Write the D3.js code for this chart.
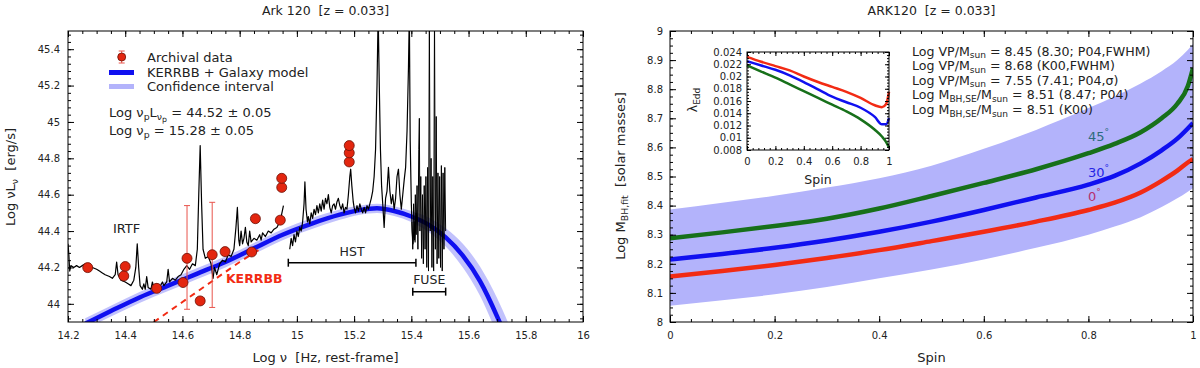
<!DOCTYPE html>
<html>
<head>
<meta charset="utf-8">
<script src="https://cdn.jsdelivr.net/npm/d3@7"></script>
<style>
body { margin: 0; background: #fff; }
svg text { font-family: "DejaVu Sans", sans-serif; fill: #222; }
</style>
</head>
<body>
<div id="chart"></div>
<script>
// ---------- left panel: Ark 120 SED ----------
const sedXTicks = [14.2, 14.4, 14.6, 14.8, 15, 15.2, 15.4, 15.6, 15.8, 16];
const sedYTicks = [44, 44.2, 44.4, 44.6, 44.8, 45, 45.2, 45.4];

// archival photometry (log nu, log nuLnu)
const archX = [14.269, 14.400, 14.395, 14.510, 14.602, 14.616, 14.662, 14.704, 14.749, 14.842, 14.855, 14.942, 14.947, 14.947, 15.183, 15.183, 15.183];
const archY = [44.199, 44.205, 44.153, 44.085, 44.117, 44.250, 44.016, 44.270, 44.287, 44.285, 44.468, 44.460, 44.640, 44.690, 44.780, 44.830, 44.870];
// the three points with error bars
const errX  = [14.269, 14.616, 14.704];
const errLo = [44.180, 43.970, 43.980];
const errHi = [44.220, 44.540, 44.558];

// KERRBB + galaxy model and its confidence interval
const modelX  = [14.26, 14.35, 14.45, 14.55, 14.65, 14.75, 14.85, 14.95, 15.05, 15.15, 15.22, 15.28, 15.34, 15.40, 15.46, 15.52, 15.58, 15.64, 15.70, 15.74];
const modelY  = [43.89, 43.96, 44.035, 44.10, 44.165, 44.23, 44.305, 44.38, 44.44, 44.49, 44.515, 44.525, 44.51, 44.48, 44.435, 44.365, 44.265, 44.125, 43.93, 43.78];
const modelLo = [43.86, 43.93, 44.005, 44.07, 44.135, 44.20, 44.275, 44.35, 44.41, 44.462, 44.49, 44.50, 44.483, 44.45, 44.395, 44.315, 44.20, 44.045, 43.83, 43.67];
const modelHi = [43.92, 43.99, 44.065, 44.13, 44.195, 44.26, 44.335, 44.41, 44.47, 44.518, 44.54, 44.55, 44.537, 44.51, 44.475, 44.415, 44.33, 44.205, 44.03, 43.89];

// KERRBB disk component alone (dashed)
const kerrbbX = [14.50, 14.60, 14.70, 14.80, 14.87];
const kerrbbY = [43.90, 44.01, 44.12, 44.23, 44.30];

// spectra [log nu, log nuLnu]
const irtfSpec = [
  [14.200,44.33],[14.203,44.27],[14.206,44.18],[14.210,44.21],[14.22,44.20],[14.23,44.21],[14.24,44.20],[14.25,44.21],[14.26,44.22],
  [14.27,44.20],[14.285,44.20],[14.30,44.19],[14.31,44.18],[14.32,44.17],[14.33,44.16],[14.345,44.15],[14.355,44.14],[14.365,44.16],
  [14.370,44.23],[14.375,44.16],[14.385,44.13],[14.40,44.12],[14.41,44.11],[14.42,44.10],[14.43,44.13],[14.437,44.20],[14.442,44.33],
  [14.447,44.20],[14.452,44.10],[14.46,44.08],[14.465,44.11],[14.47,44.08],[14.475,44.15],[14.48,44.09],[14.49,44.08],[14.495,44.12],
  [14.50,44.09],[14.51,44.11],[14.52,44.09],[14.53,44.12],[14.535,44.10],[14.545,44.12],[14.55,44.19],[14.555,44.12],[14.565,44.14],
  [14.575,44.13],[14.585,44.15],[14.595,44.16],[14.605,44.19],[14.615,44.21],[14.625,44.19],[14.635,44.22],[14.645,44.21],[14.652,44.30],
  [14.657,44.60],[14.662,44.87],[14.667,44.55],[14.672,44.30],[14.68,44.25],[14.69,44.26],[14.70,44.22],[14.707,44.14],[14.712,44.20],
  [14.72,44.16],[14.73,44.22],[14.74,44.24],[14.75,44.23],[14.76,44.27],[14.77,44.26],[14.78,44.30],[14.787,44.42],[14.792,44.53],
  [14.797,44.35],[14.80,44.32],[14.805,44.40],[14.81,44.33],[14.815,44.36],[14.82,44.42],[14.825,44.34],[14.83,44.32],[14.835,44.40],
  [14.84,44.34],[14.85,44.36],[14.86,44.35],[14.87,44.38],[14.875,44.35],[14.88,44.39],[14.89,44.37],[14.90,44.40],[14.91,44.39],
  [14.92,44.41],[14.93,44.42],[14.94,44.45],[14.945,44.48],[14.953,44.54]
];
const hstSpec = [
  [14.975,44.30],[14.98,44.36],[14.985,44.32],[14.99,44.38],[14.995,44.34],[15.00,44.40],[15.005,44.37],[15.01,44.42],[15.015,44.40],
  [15.02,44.45],[15.025,44.55],[15.028,44.67],[15.032,44.52],[15.037,44.45],[15.04,44.48],[15.045,44.44],[15.05,44.50],[15.055,44.47],
  [15.06,44.52],[15.065,44.49],[15.07,44.54],[15.075,44.50],[15.08,44.55],[15.085,44.51],[15.09,44.57],[15.095,44.52],[15.10,44.58],
  [15.105,44.55],[15.11,44.60],[15.115,44.53],[15.12,44.50],[15.125,44.54],[15.13,44.55],[15.135,44.52],[15.14,44.56],[15.145,44.58],
  [15.15,44.54],[15.155,44.52],[15.16,44.55],[15.165,44.50],[15.17,44.53],[15.175,44.52],[15.18,44.60],[15.185,44.70],[15.188,44.74],
  [15.192,44.65],[15.197,44.56],[15.20,44.53],[15.205,44.50],[15.21,44.54],[15.215,44.51],[15.22,44.55],[15.225,44.52],[15.23,44.50],
  [15.235,44.53],[15.24,44.50],[15.245,44.54],[15.25,44.52],[15.255,44.55],[15.26,44.58],[15.265,44.62],[15.27,44.70],[15.275,44.85],
  [15.28,45.20],[15.284,45.60],[15.288,45.20],[15.292,44.85],[15.296,44.65],[15.30,44.55],[15.305,44.42],[15.31,44.58],[15.315,44.62],
  [15.32,44.75],[15.325,44.62],[15.33,44.55],[15.335,44.60],[15.34,44.52],[15.345,44.58],[15.35,44.70],[15.355,44.74],[15.36,44.60],
  [15.365,44.52],[15.37,44.60],[15.375,44.68],[15.38,44.75],[15.385,44.95],[15.39,45.30],[15.393,45.60],[15.396,44.90],[15.40,44.55],
  [15.403,44.40],[15.406,44.33],[15.41,44.45],[15.413,44.34],[15.416,44.50]
];
const fuseSpec = [
  [15.402,44.45],[15.405,44.30],[15.408,44.55],[15.411,44.35],[15.414,44.60],[15.417,44.38],[15.42,44.65],[15.423,44.30],[15.426,44.85],
  [15.428,45.02],[15.430,44.40],[15.433,44.70],[15.436,44.25],[15.439,44.60],[15.442,44.22],[15.445,44.65],[15.448,44.30],[15.451,44.70],
  [15.454,44.20],[15.457,44.75],[15.460,44.18],[15.463,45.60],[15.466,44.40],[15.469,44.80],[15.472,44.20],[15.475,44.70],[15.478,44.18],
  [15.481,45.60],[15.484,44.30],[15.487,45.03],[15.490,44.22],[15.493,44.72],[15.496,44.25],[15.499,44.70],[15.502,44.20],[15.505,44.76],
  [15.508,44.18],[15.511,44.72],[15.514,44.30],[15.517,44.75],[15.52,44.40]
];
const hstRange = [14.97, 15.416];
const fuseRange = [15.405, 15.52];

// ---------- right panel: BH mass vs spin ----------
const spinTicks = [0, 0.2, 0.4, 0.6, 0.8, 1];
const massTicks = [8, 8.1, 8.2, 8.3, 8.4, 8.5, 8.6, 8.7, 8.8, 8.9, 9];
const spin = [0, 0.1, 0.2, 0.3, 0.4, 0.5, 0.6, 0.7, 0.8, 0.85, 0.9, 0.94, 0.97, 0.99, 1.0];
const mass0  = [8.156, 8.175, 8.196, 8.220, 8.247, 8.278, 8.310, 8.345, 8.385, 8.410, 8.445, 8.485, 8.520, 8.548, 8.560];
const mass30 = [8.215, 8.234, 8.255, 8.280, 8.310, 8.345, 8.385, 8.428, 8.472, 8.502, 8.545, 8.590, 8.630, 8.665, 8.684];
const mass45 = [8.288, 8.308, 8.330, 8.355, 8.390, 8.433, 8.478, 8.525, 8.580, 8.612, 8.652, 8.700, 8.750, 8.810, 8.873];
const massLo = [8.056, 8.075, 8.095, 8.120, 8.150, 8.180, 8.215, 8.255, 8.300, 8.328, 8.360, 8.395, 8.425, 8.448, 8.460];
const massHi = [8.387, 8.410, 8.434, 8.462, 8.494, 8.537, 8.595, 8.660, 8.735, 8.775, 8.820, 8.862, 8.900, 8.935, 8.955];

// inset: Eddington ratio vs spin
const eddTicks = [0.008, 0.01, 0.012, 0.014, 0.016, 0.018, 0.02, 0.022, 0.024];
const spinIn = [0, 0.1, 0.2, 0.3, 0.4, 0.5, 0.6, 0.7, 0.8, 0.9, 0.95, 0.98, 1.0];
const edd0  = [0.0232, 0.0224, 0.0217, 0.0210, 0.0200, 0.0191, 0.0183, 0.0175, 0.0165, 0.0153, 0.0150, 0.0155, 0.0175];
const edd30 = [0.0225, 0.0218, 0.0211, 0.0202, 0.0191, 0.0179, 0.0167, 0.0158, 0.0149, 0.0134, 0.0122, 0.0122, 0.0132];
const edd45 = [0.0218, 0.0208, 0.0198, 0.0187, 0.0176, 0.0165, 0.0154, 0.0143, 0.0130, 0.0113, 0.0102, 0.0093, 0.0084];

const C_RED = "#f22b14", C_BLUE = "#1010f0", C_GREEN = "#17701a", C_BAND = "#b3b3fb";

const svg = d3.select("#chart").append("svg").attr("width", 1200).attr("height", 368);
const fmt = d => String(+d.toFixed(3));

// text with subscripts: parts = [[string, level]], level 0 normal, 1 sub, 2 sub-sub
function rich(parent, x, y, parts, fs, anchor, transform) {
  const t = parent.append("text").attr("x", x).attr("y", y).attr("font-size", fs)
    .attr("text-anchor", anchor || "start").style("white-space", "pre");
  if (transform) t.attr("transform", transform);
  const off = [0, 0.22 * fs, 0.38 * fs], size = [fs, 0.72 * fs, 0.6 * fs];
  let cur = 0;
  parts.forEach(([s, lv]) => {
    t.append("tspan").attr("dy", off[lv] - cur).attr("font-size", size[lv]).text(s);
    cur = off[lv];
  });
  return t;
}

function drawAxes(g, x, y, o) {
  const [X0, X1] = x.range(), [Y0, Y1] = y.range();
  const add = (axis, tx, ty) => g.append("g").attr("transform", `translate(${tx},${ty})`)
    .attr("font-size", o.fs).call(axis).call(a => a.select(".domain").remove());
  add(d3.axisBottom(x).tickValues(o.xMajor).tickSize(-o.maj).tickPadding(o.padX).tickFormat(fmt), 0, Y0);
  add(d3.axisBottom(x).tickValues(o.xMinor).tickSize(-o.min).tickFormat(""), 0, Y0);
  add(d3.axisTop(x).tickValues(o.xMajor).tickSize(-o.maj).tickFormat(""), 0, Y1);
  add(d3.axisTop(x).tickValues(o.xMinor).tickSize(-o.min).tickFormat(""), 0, Y1);
  add(d3.axisLeft(y).tickValues(o.yMajor).tickSize(-o.maj).tickPadding(o.padY).tickFormat(fmt), X0, 0);
  add(d3.axisLeft(y).tickValues(o.yMinor).tickSize(-o.min).tickFormat(""), X0, 0);
  add(d3.axisRight(y).tickValues(o.yMajor).tickSize(-o.maj).tickFormat(""), X1, 0);
  add(d3.axisRight(y).tickValues(o.yMinor).tickSize(-o.min).tickFormat(""), X1, 0);
  g.append("rect").attr("x", X0).attr("y", Y1).attr("width", X1 - X0).attr("height", Y0 - Y1)
    .attr("fill", "none").attr("stroke", "#000").attr("stroke-width", 1);
}

// ================= LEFT PANEL =================
const xL = d3.scaleLinear().domain([14.2, 16]).range([68, 583]);
const yL = d3.scaleLinear().domain([43.9, 45.5]).range([322, 31]);
const gL = svg.append("g");
svg.append("defs").append("clipPath").attr("id", "clipL").append("rect")
  .attr("x", 68).attr("y", 31).attr("width", 515).attr("height", 291);
const plotL = gL.append("g").attr("clip-path", "url(#clipL)");

const modelRows = modelX.map((x, i) => ({ x, y: modelY[i], lo: modelLo[i], hi: modelHi[i] }));
plotL.append("path").datum(modelRows).attr("fill", C_BAND).attr("opacity", 0.8)
  .attr("d", d3.area().x(d => xL(d.x)).y0(d => yL(d.lo)).y1(d => yL(d.hi)).curve(d3.curveMonotoneX));
plotL.append("path").datum(modelRows).attr("fill", "none").attr("stroke", C_BLUE).attr("stroke-width", 4.5)
  .attr("d", d3.line().x(d => xL(d.x)).y(d => yL(d.y)).curve(d3.curveMonotoneX));
plotL.append("path").datum(kerrbbX.map((x, i) => [x, kerrbbY[i]])).attr("fill", "none")
  .attr("stroke", C_RED).attr("stroke-width", 2).attr("stroke-dasharray", "6,5")
  .attr("d", d3.line().x(d => xL(d[0])).y(d => yL(d[1])));

const specLine = d3.line().x(d => xL(d[0])).y(d => yL(d[1]));
[[irtfSpec, 1.2], [hstSpec, 1.2], [fuseSpec, 1]].forEach(([s, w]) => {
  plotL.append("path").datum(s).attr("fill", "none").attr("stroke", "#000")
    .attr("stroke-width", w).attr("stroke-linejoin", "round").attr("d", specLine);
});

// error bars
errX.forEach((x, i) => {
  const eg = plotL.append("g").attr("stroke", "#e8544c").attr("stroke-width", 1);
  eg.append("line").attr("x1", xL(x)).attr("x2", xL(x)).attr("y1", yL(errLo[i])).attr("y2", yL(errHi[i]));
  [errLo[i], errHi[i]].forEach(v => eg.append("line").attr("x1", xL(x) - 3).attr("x2", xL(x) + 3)
    .attr("y1", yL(v)).attr("y2", yL(v)));
});
plotL.selectAll("circle.arch").data(archX.map((x, i) => [x, archY[i]])).join("circle")
  .attr("class", "arch").attr("cx", d => xL(d[0])).attr("cy", d => yL(d[1])).attr("r", 5)
  .attr("fill", "#e3260f").attr("stroke", "#6b1208").attr("stroke-width", 0.8);

// instrument ranges
function rangeBar(r, yv, label, ly) {
  const g = gL.append("g").attr("stroke", "#000").attr("stroke-width", 1.5);
  g.append("line").attr("x1", xL(r[0])).attr("x2", xL(r[1])).attr("y1", yL(yv)).attr("y2", yL(yv));
  r.forEach(v => g.append("line").attr("x1", xL(v)).attr("x2", xL(v)).attr("y1", yL(yv) - 4).attr("y2", yL(yv) + 4));
  gL.append("text").attr("x", xL((r[0] + r[1]) / 2)).attr("y", yL(ly)).attr("text-anchor", "middle")
    .attr("font-size", 12.5).text(label);
}
rangeBar(hstRange, 44.226, "HST", 44.265);
rangeBar(fuseRange, 44.067, "FUSE", 44.108);

gL.append("text").attr("x", xL(14.357)).attr("y", yL(44.391)).attr("font-size", 13).text("IRTF");
gL.append("text").attr("x", xL(14.752)).attr("y", yL(44.115)).attr("font-size", 12.5)
  .attr("font-weight", "bold").style("fill", C_RED).text("KERRBB");

drawAxes(gL, xL, yL, {
  xMajor: sedXTicks, xMinor: d3.range(14.2, 16.001, 0.05),
  yMajor: sedYTicks, yMinor: d3.range(43.92, 45.5, 0.04),
  maj: 6, min: 3, padX: 10, padY: 8, fs: 13
});

// legend
const lg = gL.append("g");
lg.append("line").attr("x1", 121.7).attr("x2", 121.7).attr("y1", 51).attr("y2", 63).attr("stroke", "#e8544c");
[51, 63].forEach(v => lg.append("line").attr("x1", 118.7).attr("x2", 124.7).attr("y1", v).attr("y2", v).attr("stroke", "#e8544c"));
lg.append("circle").attr("cx", 121.7).attr("cy", 57).attr("r", 4).attr("fill", "#e3260f").attr("stroke", "#6b1208").attr("stroke-width", 0.8);
lg.append("line").attr("x1", 109).attr("x2", 134).attr("y1", 72.5).attr("y2", 72.5).attr("stroke", C_BLUE).attr("stroke-width", 5);
lg.append("line").attr("x1", 109).attr("x2", 134).attr("y1", 86.5).attr("y2", 86.5).attr("stroke", C_BAND).attr("stroke-width", 5);
[["Archival data", 61.5], ["KERRBB + Galaxy model", 76.5], ["Confidence interval", 91]].forEach(([s, y]) =>
  lg.append("text").attr("x", 147).attr("y", y).attr("font-size", 13).text(s));
rich(gL, 109, 117, [["Log ν", 0], ["p", 1], ["L", 0], ["ν", 1], ["p", 2], [" = 44.52 ± 0.05", 0]], 13);
rich(gL, 109, 135, [["Log ν", 0], ["p", 1], [" = 15.28 ± 0.05", 0]], 13);

gL.append("text").attr("x", 325.5).attr("y", 15).attr("text-anchor", "middle").attr("font-size", 12.5)
  .style("white-space", "pre").text("Ark 120  [z = 0.033]");
gL.append("text").attr("x", 325.5).attr("y", 362).attr("text-anchor", "middle").attr("font-size", 13)
  .style("white-space", "pre").text("Log ν  [Hz, rest-frame]");
rich(gL, 0, 0, [["Log νL", 0], ["ν", 1], ["  [erg/s]", 0]], 13, "middle", "translate(15,177) rotate(-90)");

// ================= RIGHT PANEL =================
const xR = d3.scaleLinear().domain([0, 1]).range([670, 1193]);
const yR = d3.scaleLinear().domain([8, 9]).range([322, 31]);
const gR = svg.append("g");
svg.select("defs").append("clipPath").attr("id", "clipR").append("rect")
  .attr("x", 670).attr("y", 31).attr("width", 523).attr("height", 291);
const plotR = gR.append("g").attr("clip-path", "url(#clipR)");
const rows = spin.map((s, i) => ({ s, lo: massLo[i], hi: massHi[i], m0: mass0[i], m30: mass30[i], m45: mass45[i] }));
plotR.append("path").datum(rows).attr("fill", C_BAND)
  .attr("d", d3.area().x(d => xR(d.s)).y0(d => yR(d.lo)).y1(d => yR(d.hi)).curve(d3.curveMonotoneX));
[["m0", C_RED], ["m30", C_BLUE], ["m45", C_GREEN]].forEach(([k, c]) => {
  plotR.append("path").datum(rows).attr("fill", "none").attr("stroke", c).attr("stroke-width", 4.5)
    .attr("d", d3.line().x(d => xR(d.s)).y(d => yR(d[k])).curve(d3.curveMonotoneX));
});
[["45", "#2d6b7c", 8.622], ["30", "#2424e6", 8.499], ["0", "#b5306e", 8.416]].forEach(([s, c, v]) => {
  const t = gR.append("text").attr("x", xR(0.799)).attr("y", yR(v)).attr("font-size", 13).style("fill", c).text(s);
  t.append("tspan").attr("dy", -6).attr("font-size", 9).style("fill", c).text("°");
});

drawAxes(gR, xR, yR, {
  xMajor: spinTicks, xMinor: d3.range(0, 1.001, 0.04),
  yMajor: massTicks, yMinor: d3.range(8, 9.001, 0.025),
  maj: 6, min: 3, padX: 10, padY: 7, fs: 13
});

const notes = [
  [["Log VP/M", 0], ["sun", 1], [" = 8.45 (8.30; P04,FWHM)", 0]],
  [["Log VP/M", 0], ["sun", 1], [" = 8.68 (K00,FWHM)", 0]],
  [["Log VP/M", 0], ["sun", 1], [" = 7.55 (7.41; P04,σ)", 0]],
  [["Log M", 0], ["BH,SE", 1], ["/M", 0], ["sun", 1], [" = 8.51 (8.47; P04)", 0]],
  [["Log M", 0], ["BH,SE", 1], ["/M", 0], ["sun", 1], [" = 8.51 (K00)", 0]]
];
notes.forEach((p, i) => rich(gR, 912, 55.5 + i * 14.6, p, 12.6));

gR.append("text").attr("x", 931.5).attr("y", 15).attr("text-anchor", "middle").attr("font-size", 12.5)
  .style("white-space", "pre").text("ARK120  [z = 0.033]");
gR.append("text").attr("x", 931.5).attr("y", 362).attr("text-anchor", "middle").attr("font-size", 13).text("Spin");
rich(gR, 0, 0, [["Log M", 0], ["BH,fit", 1], ["  [solar masses]", 0]], 13, "middle", "translate(625,176) rotate(-90)");

// inset
const xI = d3.scaleLinear().domain([0, 1]).range([747, 889]);
const yI = d3.scaleLinear().domain([0.008, 0.024]).range([150, 52]);
const gI = gR.append("g");
gI.append("rect").attr("x", 747).attr("y", 52).attr("width", 142).attr("height", 98).attr("fill", "#fff");
[[edd0, C_RED], [edd30, C_BLUE], [edd45, C_GREEN]].forEach(([arr, c]) => {
  gI.append("path").datum(spinIn.map((s, i) => [s, arr[i]])).attr("fill", "none").attr("stroke", c)
    .attr("stroke-width", 2.5).attr("d", d3.line().x(d => xI(d[0])).y(d => yI(d[1])).curve(d3.curveMonotoneX));
});
drawAxes(gI, xI, yI, {
  xMajor: spinTicks, xMinor: d3.range(0, 1.001, 0.04),
  yMajor: eddTicks, yMinor: d3.range(0.008, 0.0241, 0.0005),
  maj: 4, min: 2, padX: 8, padY: 5, fs: 12.5
});
gI.append("text").attr("x", 818).attr("y", 184).attr("text-anchor", "middle").attr("font-size", 12.5).text("Spin");
rich(gI, 0, 0, [["λ", 0], ["Edd", 1]], 12.5, "middle", "translate(697,100) rotate(-90)");
</script>
</body>
</html>
